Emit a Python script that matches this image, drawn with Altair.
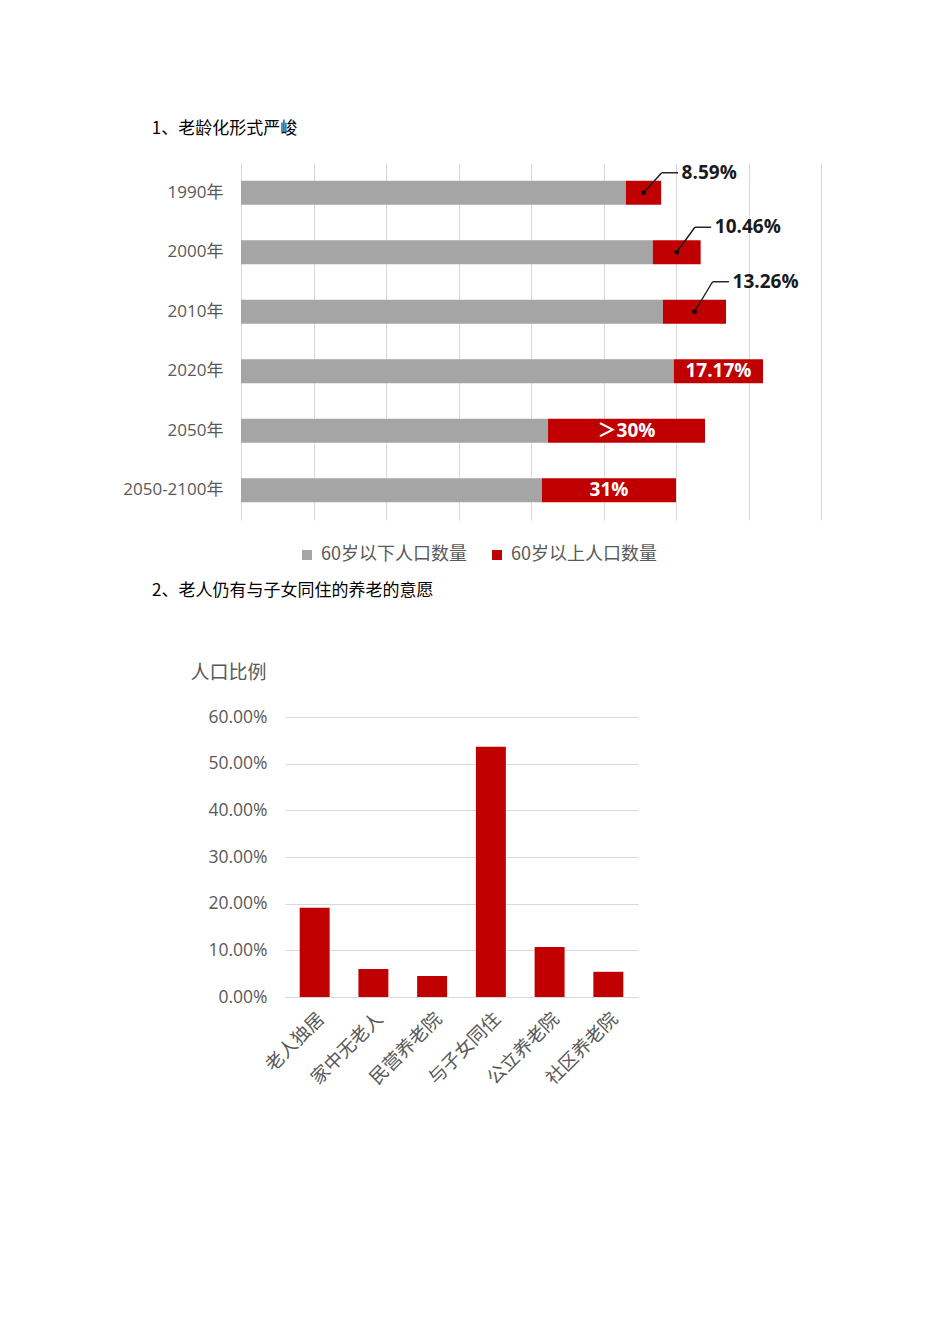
import altair as alt
import pandas as pd

# ---------------- data ----------------
years = ["1990年", "2000年", "2010年", "2020年", "2050年", "2050-2100年"]
under60 = [10.62, 11.36, 11.64, 11.94, 8.47, 8.30]
over60 = [0.97, 1.32, 1.74, 2.46, 4.33, 3.70]
share_labels = ["8.59%", "10.46%", "13.26%", "17.17%", "＞30%", "31%"]
label_outside = [True, True, True, False, False, False]
series_names = ["60岁以下人口数量", "60岁以上人口数量"]
series_colors = ["#a5a5a5", "#c00000"]

cats = ["老人独居", "家中无老人", "民营养老院", "与子女同住", "公立养老院", "社区养老院"]
ratios = [0.191, 0.060, 0.045, 0.536, 0.107, 0.054]

title1 = "1、老龄化形式严峻"
title2 = "2、老人仍有与子女同住的养老的意愿"
ytitle2 = "人口比例"

# style: vertical lift (px) of each outside label's leader line
leader_lift = {"1990年": 20, "2000年": 25, "2010年": 30}

LATIN = "Open Sans, Noto Sans CJK SC, sans-serif"
CJK = "Noto Sans CJK SC, sans-serif"
GRID = "#d9d9d9"
TXT = "#595959"

# ---------------- chart 1 ----------------
long = pd.DataFrame({
    "year": years * 2,
    "series": [series_names[0]] * len(years) + [series_names[1]] * len(years),
    "value": under60 + over60,
    "ord": [0] * len(years) + [1] * len(years),
})
lab = pd.DataFrame({"year": years, "under": under60, "over": over60,
                    "label": share_labels, "outside": label_outside})

ysc = alt.Scale(domain=years, paddingInner=0.6, paddingOuter=0.3)
xsc = alt.Scale(domain=[0, 16], nice=False, zero=True)
xaxis = alt.Axis(values=list(range(0, 17, 2)), labels=False, ticks=False, domain=False,
                 grid=True, gridColor=GRID, gridWidth=1, title=None)
yaxis = alt.Axis(labelFontSize=17, labelColor=TXT, labelPadding=18, ticks=False,
                 domain=False, labelFont=LATIN, title=None)

Y1 = alt.Y("year:N", scale=ysc, axis=yaxis, title=None)


def X1(field):
    return alt.X(field, scale=xsc, axis=xaxis, title=None)


bars = alt.Chart(long).mark_bar().encode(
    y=Y1,
    x=alt.X("value:Q", stack="zero", scale=xsc, axis=xaxis, title=None),
    color=alt.Color("series:N", scale=alt.Scale(domain=series_names, range=series_colors),
                    legend=alt.Legend(orient="none", legendX=177, legendY=383,
                                      direction="horizontal", title=None,
                                      symbolType="square", symbolSize=100,
                                      symbolStrokeWidth=0, labelFontSize=18,
                                      labelColor=TXT, labelFont=CJK, labelOffset=5,
                                      columnPadding=21, padding=0)),
    order=alt.Order("ord:Q"),
)

base = alt.Chart(lab).transform_calculate(
    mid="datum.under + datum.over / 2",
    elbow="datum.under + datum.over / 2 + 0.5",
    elbow2="datum.under + datum.over / 2 + 0.95",
    tx="datum.under + datum.over / 2 + 1.05",
)

inside = base.transform_filter("!datum.outside").mark_text(
    color="white", fontWeight="bold", fontSize=19, font=LATIN
).encode(y=Y1, x=X1("mid:Q"), text="label:N")

layers = [bars, inside]
for yr, lift in leader_lift.items():
    one = base.transform_filter(alt.datum.year == yr)
    layers.append(one.mark_rule(color="#1a1a1a", strokeWidth=1.4, y2Offset=-lift).encode(
        y=Y1, y2=alt.Y2("year"), x=X1("mid:Q"), x2=alt.X2("elbow:Q")))
    layers.append(one.mark_rule(color="#1a1a1a", strokeWidth=1.4, yOffset=-lift).encode(
        y=Y1, x=X1("elbow:Q"), x2=alt.X2("elbow2:Q")))
    layers.append(one.mark_text(align="left", baseline="middle", dy=-lift, fontWeight="bold",
                                fontSize=19, font=LATIN, color="#1a1a1a").encode(
        y=Y1, x=X1("tx:Q"), text="label:N"))

dots = base.transform_filter("datum.outside").mark_circle(
    size=22, color="black", opacity=1).encode(y=Y1, x=X1("mid:Q"))
layers.append(dots)

chart1 = alt.layer(*layers).properties(
    width=580, height=357,
    title=alt.TitleParams(title1, anchor="start", dx=29, offset=25, fontSize=17,
                          font=CJK, fontWeight="normal", color="#000000"),
)

# ---------------- chart 2 ----------------
df2 = pd.DataFrame({"cat": cats, "ratio": ratios})
chart2 = alt.Chart(df2).mark_bar(color="#c00000").encode(
    x=alt.X("cat:N", sort=cats, title=None,
            scale=alt.Scale(paddingInner=0.49, paddingOuter=0.25),
            axis=alt.Axis(labelAngle=-45, labelFontSize=18.5, labelColor=TXT, labelFont=CJK,
                          ticks=False, domainColor=GRID, domainWidth=1, labelPadding=12)),
    y=alt.Y("ratio:Q", scale=alt.Scale(domain=[0, 0.6], nice=False),
            axis=alt.Axis(values=[0, 0.1, 0.2, 0.3, 0.4, 0.5, 0.6], format=".2%",
                          labelFontSize=17.5, labelColor=TXT, labelFont=LATIN,
                          labelPadding=18, ticks=False, domain=False,
                          gridColor=GRID, gridWidth=1,
                          title=ytitle2, titleAngle=0, titleX=-95, titleY=-45,
                          titleAlign="left", titleBaseline="middle", titleFontSize=19,
                          titleFontWeight="normal", titleColor=TXT, titleFont=CJK)),
).properties(width=353, height=280)


def spacer(w):
    return alt.Chart(pd.DataFrame({"a": [0]})).mark_text().encode(
        text=alt.value("")).properties(width=w, height=10)


row1 = alt.hconcat(spacer(1), chart1, spacing=0)
row2 = alt.hconcat(spacer(69), chart2, spacing=0).properties(
    title=alt.TitleParams(title2, anchor="start", dx=31, offset=63, fontSize=17,
                          font=CJK, fontWeight="normal", color="#000000"),
)

chart = alt.vconcat(row1, row2, spacing=62).properties(
    background="white",
    padding={"left": 113, "top": 112, "right": 5, "bottom": 5},
).configure_view(strokeWidth=0)

chart.save("out.html", embed_options={"renderer": "svg", "actions": False})
